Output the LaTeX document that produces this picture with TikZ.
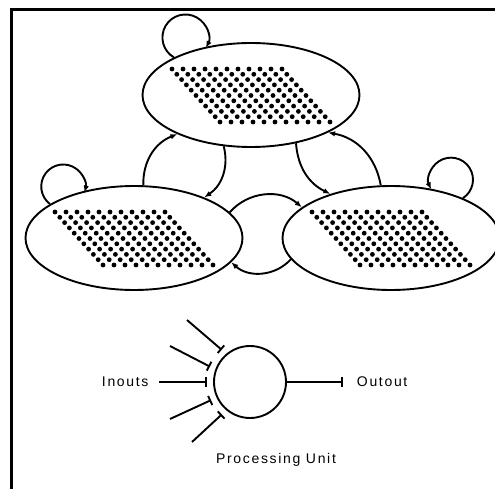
\documentclass[tikz,border=0pt]{standalone}
\usepackage{fontspec}
\newfontfamily\lblfont[LetterSpace=12]{Liberation Sans}
\usetikzlibrary{shapes.geometric,arrows.meta}
\begin{document}
\begin{tikzpicture}[x=1pt,y=-1pt,
  line width=1.9pt,
  pool/.style={draw,ellipse,minimum width=217pt,minimum height=104pt,inner sep=0pt},
  arr/.style={-{Latex[length=7pt,width=5.5pt]}},
  tee/.style={-{Bar[width=10pt]},shorten >=6pt},
  lbl/.style={font=\lblfont\fontsize{14}{16}\selectfont,inner sep=0pt}
]
\useasboundingbox (0,0) rectangle (495,489);
% frame
\draw[line width=3pt] (11,489) -- (11,9.5) -- (495,9.5);
% pools
\node[pool] (top) at (251,95) {};
\node[pool] (left) at (134,238) {};
\node[pool] (right) at (391,238) {};
% dot grids
\foreach \n in {top,left,right}{
  \begin{scope}[shift={(\n.center)},shift={(-79,-26)}]
    \foreach \r in {0,...,10}{\foreach \c in {0,...,10}{
      \fill (\c*11+\r*4.8,\r*5.3) circle[radius=2.4pt];}}
  \end{scope}
}
% self loops
\draw[arr] (top.154) arc[start angle=240, end angle=-27, radius=23pt];
\draw[arr] (left.158) arc[start angle=233, end angle=-16, radius=22pt];
\draw[arr] (right.29) arc[start angle=-57, end angle=206, radius=22pt];
% connections
\draw[arr] (left.80) to[bend left=35] (top.208);
\draw[arr] (top.242) to[bend left=35] (left.30);
\draw[arr] (top.313) to[bend right=30] (right.144);
\draw[arr] (right.101) to[bend right=35] (top.334);
\draw[arr] (left.15) to[bend left=45] (right.161);
\draw[arr] (right.192) to[bend left=45] (left.346);
% processing unit
\node[draw,circle,minimum size=72pt,inner sep=0pt] (pu) at (250,382) {};
\coordinate (in0) at (159,382);
\coordinate (in1) at (170,346);
\coordinate (in2) at (187,320);
\coordinate (in3) at (170,419);
\coordinate (in4) at (192,442);
\coordinate (out) at (343,382);
\draw[tee] (in0) -- (pu.180);
\draw[tee] (in1) -- (pu.160);
\draw[tee] (in2) -- (pu.130);
\draw[tee] (in3) -- (pu.205);
\draw[tee] (in4) -- (pu.230);
\draw[-{Bar[width=10pt]}] (pu.east) -- (out);
\node[lbl,anchor=west] (inl) at (101,382) {Inouts};
\node[lbl,anchor=west] (outl) at (356,382) {Outout};
\node[lbl] (pul) at (276,460) {Processing Unit};
\end{tikzpicture}
\end{document}
